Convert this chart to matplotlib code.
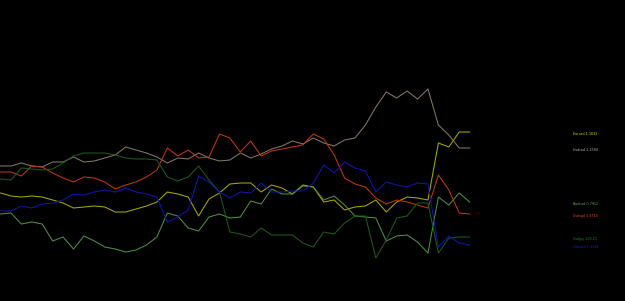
import matplotlib
matplotlib.use("Agg")
import matplotlib.pyplot as plt
import numpy as np

# values (screen-row units, smaller = higher)
eurusd = [193, 196, 197, 196, 197, 200, 203, 208, 207, 206, 207, 212, 212, 209, 206, 202,
          192, 194, 197, 216, 199, 193, 184, 183, 183, 192, 185, 188, 194, 185, 187, 202,
          200, 210, 207, 206, 200, 212, 202, 197, 198, 200, 143, 147, 132, 132]
usdcad = [166, 166, 163, 166, 167, 162, 162, 157, 162, 161, 158, 155, 147, 150, 153, 157,
          163, 158, 159, 153, 158, 161, 160, 153, 158, 154, 149, 146, 141, 144, 138, 143,
          146, 140, 138, 125, 107, 92, 98, 91, 99, 89, 125, 135, 148, 148]
audusd = [214, 213, 224, 222, 224, 241, 237, 249, 236, 241, 247, 249, 252, 250, 245, 237,
          213, 216, 228, 231, 217, 214, 218, 217, 201, 204, 189, 194, 194, 186, 187, 200,
          196, 205, 216, 217, 218, 241, 236, 235, 242, 253, 197, 205, 193, 202]
usdsgd = [172, 172, 176, 166, 167, 173, 178, 182, 177, 178, 182, 189, 185, 182, 177, 170,
          148, 156, 150, 158, 157, 134, 138, 152, 141, 156, 151, 149, 147, 145, 134, 139,
          155, 178, 184, 187, 198, 204, 200, 202, 205, 208, 175, 190, 213, 214]
usdjpy = [179, 180, 168, 169, 170, 169, 163, 156, 153, 153, 153, 155, 158, 159, 159, 160,
          177, 181, 177, 166, 180, 192, 232, 234, 237, 228, 235, 235, 235, 243, 247, 232,
          234, 223, 216, 216, 258, 240, 218, 216, 203, 203, 253, 238, 237, 237]
gbpusd = [211, 211, 206, 208, 204, 203, 200, 194, 195, 192, 190, 192, 188, 192, 194, 197,
          222, 217, 210, 176, 182, 192, 198, 192, 193, 183, 192, 192, 191, 191, 183, 165,
          173, 162, 168, 171, 192, 182, 185, 187, 183, 184, 247, 236, 243, 245]

names = ["Eurusd", "Usdcad", "Audusd", "Usdsgd", "Usdjpy", "Gbpusd"]
quotes = ["1.1632", "1.2594", "0.7912", "1.3714", "109.21", "1.3128"]
series = [eurusd, usdcad, audusd, usdsgd, usdjpy, gbpusd]
colors = ["#a8a800", "#857766", "#4f8f45", "#c0380e", "#1d5a1d", "#1414b0"]
label_colors = ["#d8d800", "#b8aa98", "#5faa55", "#d84818", "#2a7a2a", "#2020d0"]

fig = plt.figure(figsize=(6.25, 3.01), dpi=100, facecolor="black")
ax = fig.add_axes([0, 0, 1, 1], facecolor="black")

for vals, c in zip(series, colors):
    ax.plot(np.arange(len(vals)), vals, color=c, lw=0.75)

for vals, name, q, lc in zip(series, names, quotes, label_colors):
    ax.text(54.9, vals[-1], f"{name} {q}", color=lc, fontsize=2.4, va="top", ha="left")

ax.set_xlim(-0.05, 59.9)
ax.set_ylim(301, 0)
ax.axis("off")

fig.savefig("out.png", dpi=100, facecolor="black")
